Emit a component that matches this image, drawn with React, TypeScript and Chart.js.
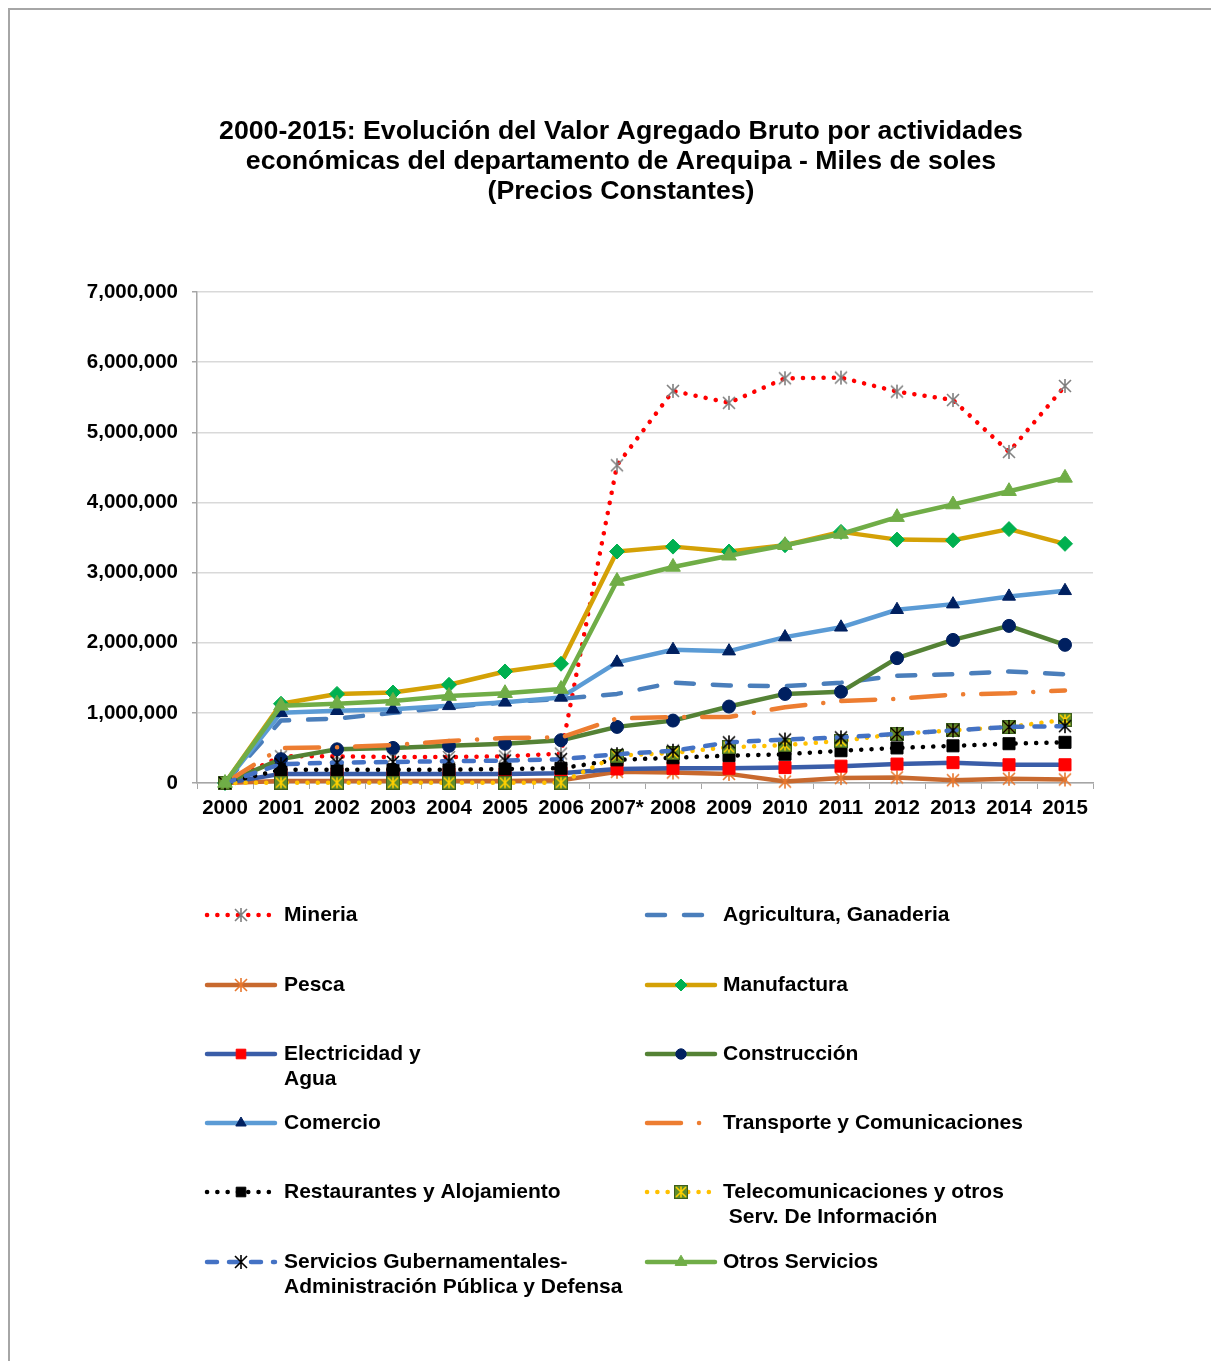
import React, { useEffect, useRef } from 'react';
import { Chart, registerables } from 'chart.js';

Chart.register(...registerables);

const FONT = '"Liberation Sans", Arial, Helvetica, sans-serif';

const titleLines = [
  '2000-2015: Evolución del Valor Agregado Bruto por actividades',
  'económicas del departamento de Arequipa - Miles de soles',
  '(Precios Constantes)',
];

const years = ['2000', '2001', '2002', '2003', '2004', '2005', '2006', '2007*', '2008', '2009', '2010', '2011', '2012', '2013', '2014', '2015'];

const mineria = [0, 380000, 380000, 370000, 370000, 380000, 420000, 4530000, 5590000, 5420000, 5770000, 5780000, 5580000, 5460000, 4720000, 5660000];
const agricultura = [0, 890000, 920000, 1000000, 1080000, 1150000, 1200000, 1270000, 1430000, 1390000, 1380000, 1430000, 1530000, 1550000, 1590000, 1550000];
const pesca = [0, 30000, 30000, 30000, 30000, 30000, 40000, 160000, 150000, 130000, 20000, 70000, 80000, 40000, 60000, 50000];
const manufactura = [0, 1130000, 1270000, 1290000, 1400000, 1590000, 1700000, 3300000, 3370000, 3300000, 3390000, 3580000, 3470000, 3460000, 3620000, 3410000];
const electricidad = [0, 130000, 130000, 130000, 130000, 130000, 140000, 200000, 210000, 210000, 220000, 240000, 270000, 290000, 260000, 260000];
const construccion = [0, 340000, 480000, 500000, 530000, 560000, 610000, 800000, 890000, 1090000, 1270000, 1300000, 1780000, 2040000, 2240000, 1970000];
const comercio = [0, 1000000, 1030000, 1050000, 1100000, 1150000, 1220000, 1720000, 1900000, 1880000, 2080000, 2220000, 2470000, 2550000, 2660000, 2740000];
const transporte = [0, 500000, 510000, 540000, 600000, 640000, 650000, 920000, 940000, 940000, 1080000, 1170000, 1200000, 1260000, 1280000, 1320000];
const restaurantes = [0, 190000, 190000, 190000, 190000, 200000, 210000, 330000, 360000, 390000, 410000, 460000, 500000, 530000, 560000, 580000];
const telecom = [0, 5000, 5000, 5000, 5000, 5000, 5000, 390000, 430000, 510000, 540000, 600000, 700000, 750000, 800000, 900000];
const gobierno = [0, 270000, 290000, 300000, 310000, 320000, 340000, 410000, 460000, 580000, 620000, 650000, 700000, 750000, 800000, 810000];
const otros = [0, 1100000, 1130000, 1170000, 1240000, 1280000, 1340000, 2880000, 3080000, 3240000, 3390000, 3550000, 3790000, 3970000, 4160000, 4350000];

const yMin = 0;
const yMax = 7000000;
const yStep = 1000000;

function makeAsterisk(size: number, color: string, lw: number) {
  const c = document.createElement('canvas');
  c.width = size;
  c.height = size;
  const g = c.getContext('2d')!;
  g.strokeStyle = color;
  g.lineWidth = lw;
  g.lineCap = 'butt';
  const m = 2;
  g.beginPath();
  g.moveTo(m, m);
  g.lineTo(size - m, size - m);
  g.moveTo(size - m, m);
  g.lineTo(m, size - m);
  g.moveTo(size / 2, 1);
  g.lineTo(size / 2, size - 1);
  g.stroke();
  return c;
}

function makeTelecomMarker(size: number) {
  const c = document.createElement('canvas');
  c.width = size;
  c.height = size;
  const g = c.getContext('2d')!;
  g.fillStyle = '#5F8C2C';
  g.fillRect(0, 0, size, size);
  g.strokeStyle = '#3E5E1C';
  g.lineWidth = 1;
  g.strokeRect(0.5, 0.5, size - 1, size - 1);
  g.strokeStyle = '#FFD000';
  g.lineWidth = 1.6;
  g.beginPath();
  g.moveTo(2, 2);
  g.lineTo(size - 2, size - 2);
  g.moveTo(size - 2, 2);
  g.lineTo(2, size - 2);
  g.moveTo(size / 2, 1.5);
  g.lineTo(size / 2, size - 1.5);
  g.stroke();
  return c;
}

type Series = {
  label: string[];
  data: number[];
  color: string;
  width: number;
  dash: number[];
  cap: CanvasLineCap;
  point: any;
  radius: number;
  fill: string;
  stroke: string;
  pbw: number;
};

function buildSeries(): Series[] {
  const grayStar = makeAsterisk(16, '#7F7F7F', 1.6);
  const brownStar = makeAsterisk(16, '#E8772E', 1.6);
  const blackStar = makeAsterisk(16, '#000000', 1.6);
  const tele = makeTelecomMarker(14);
  return [
    { label: ['Mineria'], data: mineria, color: '#FF0000', width: 4.5, dash: [0.1, 10.2], cap: 'round', point: grayStar, radius: 8, fill: '#7F7F7F', stroke: '#7F7F7F', pbw: 1 },
    { label: ['Agricultura, Ganaderia'], data: agricultura, color: '#4A7EBB', width: 4.5, dash: [18, 19], cap: 'round', point: 'circle', radius: 0, fill: '#4A7EBB', stroke: '#4A7EBB', pbw: 0 },
    { label: ['Pesca'], data: pesca, color: '#C8692E', width: 4.5, dash: [], cap: 'round', point: brownStar, radius: 8, fill: '#E8772E', stroke: '#E8772E', pbw: 1 },
    { label: ['Manufactura'], data: manufactura, color: '#D4A106', width: 4.5, dash: [], cap: 'round', point: 'rectRot', radius: 7.5, fill: '#00B050', stroke: '#00B050', pbw: 1 },
    { label: ['Electricidad y', 'Agua'], data: electricidad, color: '#3A5DA8', width: 4.5, dash: [], cap: 'round', point: 'rect', radius: 8.5, fill: '#FF0000', stroke: '#FF0000', pbw: 1 },
    { label: ['Construcción'], data: construccion, color: '#548235', width: 4.5, dash: [], cap: 'round', point: 'circle', radius: 6.5, fill: '#002060', stroke: '#002060', pbw: 1 },
    { label: ['Comercio'], data: comercio, color: '#5B9BD5', width: 4.5, dash: [], cap: 'round', point: 'triangle', radius: 7.5, fill: '#002060', stroke: '#002060', pbw: 1 },
    { label: ['Transporte y Comunicaciones'], data: transporte, color: '#ED7D31', width: 4.5, dash: [34, 18, 0.1, 18], cap: 'round', point: 'circle', radius: 0, fill: '#ED7D31', stroke: '#ED7D31', pbw: 0 },
    { label: ['Restaurantes y Alojamiento'], data: restaurantes, color: '#000000', width: 4.5, dash: [0.1, 10.2], cap: 'round', point: 'rect', radius: 8.5, fill: '#000000', stroke: '#000000', pbw: 1 },
    { label: ['Telecomunicaciones y otros', ' Serv. De Información'], data: telecom, color: '#FFC000', width: 4.5, dash: [0.1, 10.2], cap: 'round', point: tele, radius: 7, fill: '#5F8C2C', stroke: '#5F8C2C', pbw: 1 },
    { label: ['Servicios Gubernamentales-', 'Administración Pública y Defensa'], data: gobierno, color: '#4472C4', width: 4.5, dash: [10, 12], cap: 'round', point: blackStar, radius: 8, fill: '#000000', stroke: '#000000', pbw: 1 },
    { label: ['Otros Servicios'], data: otros, color: '#70AD47', width: 4.5, dash: [], cap: 'round', point: 'triangle', radius: 8.5, fill: '#70AD47', stroke: '#70AD47', pbw: 1 },
  ];
}

function drawMarker(ctx: CanvasRenderingContext2D, s: Series, x: number, y: number, r: number) {
  const style = s.point;
  if (r <= 0) return;
  ctx.save();
  ctx.setLineDash([]);
  if (style instanceof HTMLCanvasElement) {
    ctx.drawImage(style, Math.round(x - style.width / 2), Math.round(y - style.height / 2));
    ctx.restore();
    return;
  }
  ctx.fillStyle = s.fill;
  ctx.strokeStyle = s.stroke;
  ctx.lineWidth = s.pbw;
  ctx.beginPath();
  if (style === 'circle') {
    ctx.arc(x, y, r, 0, Math.PI * 2);
  } else if (style === 'rect') {
    const h = r * Math.SQRT1_2;
    ctx.rect(x - h, y - h, 2 * h, 2 * h);
  } else if (style === 'rectRot') {
    ctx.moveTo(x, y - r);
    ctx.lineTo(x + r, y);
    ctx.lineTo(x, y + r);
    ctx.lineTo(x - r, y);
    ctx.closePath();
  } else if (style === 'triangle') {
    let a = 0;
    ctx.moveTo(x + Math.sin(a) * r, y - Math.cos(a) * r);
    a += (2 * Math.PI) / 3;
    ctx.lineTo(x + Math.sin(a) * r, y - Math.cos(a) * r);
    a += (2 * Math.PI) / 3;
    ctx.lineTo(x + Math.sin(a) * r, y - Math.cos(a) * r);
    ctx.closePath();
  }
  ctx.fill();
  ctx.stroke();
  ctx.restore();
}

// layout constants (canvas coordinates)
const CANVAS_W = 1209;
const CANVAS_H = 1351;
const TITLE_X = 611;
const TITLE_Y0 = 122;
const TITLE_LH = 30;
const LEG_COLS = [
  { x0: 197, x1: 265, tx: 274 },
  { x0: 637, x1: 705, tx: 713 },
];
const LEG_ROWS = [905, 975, 1044, 1113, 1182, 1252];
const LEG_LH = 25;

export default function App() {
  const ref = useRef<HTMLCanvasElement>(null);

  useEffect(() => {
    const series = buildSeries();

    const overlay = {
      id: 'overlay',
      afterDraw(chart: any) {
        const ctx: CanvasRenderingContext2D = chart.ctx;
        ctx.save();
        ctx.fillStyle = '#000';
        ctx.textAlign = 'center';
        ctx.textBaseline = 'middle';
        ctx.font = `bold 26.7px ${FONT}`;
        titleLines.forEach((t, i) => ctx.fillText(t, TITLE_X, TITLE_Y0 + i * TITLE_LH));

        series.forEach((s, i) => {
          const col = LEG_COLS[i % 2];
          const y = LEG_ROWS[Math.floor(i / 2)];
          ctx.save();
          ctx.strokeStyle = s.color;
          ctx.lineWidth = s.width;
          ctx.lineCap = s.cap;
          ctx.setLineDash(s.dash);
          ctx.beginPath();
          ctx.moveTo(col.x0, y);
          ctx.lineTo(col.x1, y);
          ctx.stroke();
          ctx.restore();
          drawMarker(ctx, s, (col.x0 + col.x1) / 2, y, s.radius > 0 ? s.radius * 0.8 : 0);
          ctx.fillStyle = '#000';
          ctx.textAlign = 'left';
          ctx.textBaseline = 'middle';
          ctx.font = `bold 21px ${FONT}`;
          s.label.forEach((t, k) => ctx.fillText(t, col.tx, y + k * LEG_LH));
        });
        ctx.restore();
      },
    };

    const datasets = series.map((s, i) => ({
      label: s.label.join(' '),
      data: s.data,
      borderColor: s.color,
      backgroundColor: s.color,
      borderWidth: s.width,
      borderDash: s.dash,
      borderCapStyle: s.cap,
      borderJoinStyle: 'round' as const,
      tension: 0,
      fill: false,
      pointStyle: s.point,
      pointRadius: s.radius,
      pointBackgroundColor: s.fill,
      pointBorderColor: s.stroke,
      pointBorderWidth: s.pbw,
      clip: false as any,
      order: series.length - i,
    }));

    const chart = new Chart(ref.current!, {
      type: 'line',
      data: { labels: years, datasets },
      options: {
        responsive: false,
        animation: false,
        events: [],
        layout: { padding: { left: 0, right: 126, top: 282, bottom: 538 } },
        plugins: {
          legend: { display: false },
          title: { display: false },
          tooltip: { enabled: false },
        },
        scales: {
          x: {
            type: 'category',
            offset: true,
            afterFit: (scale: any) => {
              scale.height = 40;
            },
            grid: {
              display: true,
              drawOnChartArea: false,
              offset: true,
              tickLength: 6,
              color: '#A6A6A6',
            },
            border: { display: true, color: '#A6A6A6', width: 1.5 },
            ticks: {
              color: '#000',
              font: { family: FONT, size: 20.5, weight: 'bold' },
              padding: 7,
              maxRotation: 0,
              autoSkip: false,
            },
          },
          y: {
            min: yMin,
            max: yMax,
            afterFit: (scale: any) => {
              scale.width = 187;
            },
            grid: {
              color: '#D9D9D9',
              lineWidth: 1.5,
              tickColor: '#A6A6A6',
              tickLength: 5,
            },
            border: { display: true, color: '#A6A6A6', width: 1.5 },
            ticks: {
              stepSize: yStep,
              color: '#000',
              padding: 14,
              font: { family: FONT, size: 20.5, weight: 'bold' },
              callback: (v: any) => Number(v).toLocaleString('en-US'),
            },
          },
        },
      },
      plugins: [overlay],
    } as any);

    return () => chart.destroy();
  }, []);

  return (
    <div
      style={{
        width: 1211,
        height: 1353,
        borderTop: '2px solid #A6A6A6',
        borderLeft: '2px solid #A6A6A6',
        boxSizing: 'border-box',
        background: '#fff',
        overflow: 'hidden',
      }}
    >
      <canvas ref={ref} width={CANVAS_W} height={CANVAS_H} style={{ display: 'block' }} />
    </div>
  );
}
